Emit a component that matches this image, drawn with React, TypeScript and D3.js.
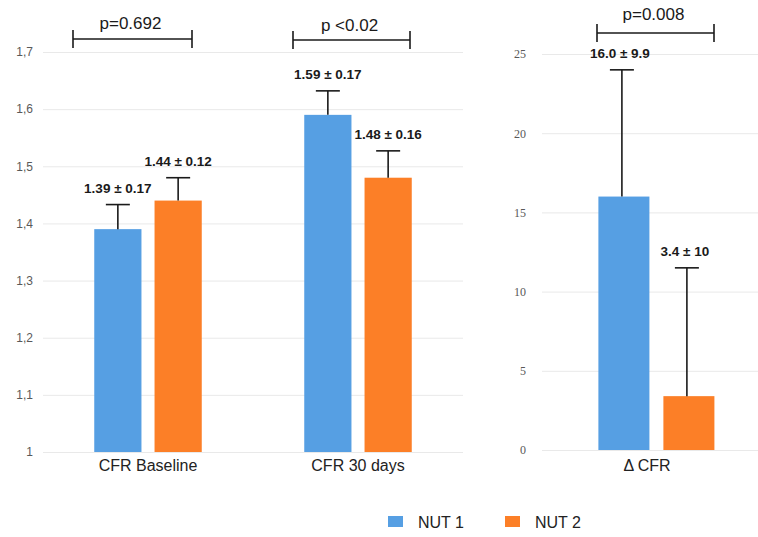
import React, { useRef, useEffect } from 'react';
import * as d3 from 'd3';

// values
const groups = ['CFR Baseline', 'CFR 30 days'];
const series = ['NUT 1', 'NUT 2'];
const colors = ['#569fe3', '#fc7f27'];

const meanNut1 = [1.39, 1.59];
const meanNut2 = [1.44, 1.48];
const errNut1 = [0.043, 0.042]; // whisker as drawn
const errNut2 = [0.04, 0.047];
const labelNut1 = ['1.39 ± 0.17', '1.59 ± 0.17'];
const labelNut2 = ['1.44 ± 0.12', '1.48 ± 0.16'];

const deltaGroup = ['Δ CFR'];
const deltaMean = [16.0, 3.4];
const deltaErr = [8.0, 8.1];
const deltaLabel = ['16.0 ± 9.9', '3.4 ± 10'];

const leftTicks = [1, 1.1, 1.2, 1.3, 1.4, 1.5, 1.6, 1.7];
const rightTicks = [0, 5, 10, 15, 20, 25];
const pValues = ['p=0.692', 'p <0.02', 'p=0.008'];

const W = 758, H = 537;
const sans = 'Liberation Sans, Arial, sans-serif';

export default function App() {
  const ref = useRef<SVGSVGElement>(null);

  useEffect(() => {
    const svg = d3.select(ref.current);
    svg.selectAll('*').remove();

    // ---- left panel
    const xL = d3.scaleBand().domain(groups).range([43, 463]);
    const xInL = d3.scaleBand().domain(series).range([0, xL.bandwidth()])
      .paddingInner(0.217).paddingOuter(0.85).align(0.5);
    const yL = d3.scaleLinear().domain([1, 1.7]).range([452, 52]);

    const axL = svg.append('g').attr('transform', 'translate(43,0)')
      .call(d3.axisLeft(yL).tickValues(leftTicks).tickSize(-420).tickPadding(10)
        .tickFormat((d) => d3.format('.1~f')(+d).replace('.', ',')));
    axL.select('.domain').remove();
    axL.selectAll('line').attr('stroke', '#e9e9e9');
    axL.selectAll('text').attr('fill', '#595959').attr('font-size', 12).attr('font-family', sans);

    const leftRows = groups.flatMap((g, i) => [
      { g, s: series[0], v: meanNut1[i], e: errNut1[i], t: labelNut1[i], c: colors[0] },
      { g, s: series[1], v: meanNut2[i], e: errNut2[i], t: labelNut2[i], c: colors[1] },
    ]);
    const bw = xInL.bandwidth();
    leftRows.forEach((d) => {
      const x0 = (xL(d.g) as number) + (xInL(d.s) as number);
      const cx = x0 + bw / 2;
      svg.append('rect').attr('x', x0).attr('y', yL(d.v)).attr('width', bw)
        .attr('height', yL(1) - yL(d.v)).attr('fill', d.c);
      const top = yL(d.v + d.e);
      svg.append('line').attr('x1', cx).attr('x2', cx).attr('y1', yL(d.v)).attr('y2', top)
        .attr('stroke', '#1a1a1a').attr('stroke-width', 1.6);
      svg.append('line').attr('x1', cx - 12).attr('x2', cx + 12).attr('y1', top).attr('y2', top)
        .attr('stroke', '#1a1a1a').attr('stroke-width', 1.6);
      svg.append('text').attr('x', cx).attr('y', top - 12).attr('text-anchor', 'middle')
        .attr('font-family', sans).attr('font-weight', 'bold').attr('font-size', 13.5)
        .attr('fill', '#1a1a1a').text(d.t);
    });
    groups.forEach((g) => {
      svg.append('text').attr('x', (xL(g) as number) + xL.bandwidth() / 2).attr('y', 471)
        .attr('text-anchor', 'middle').attr('font-family', sans).attr('font-size', 16)
        .attr('fill', '#222').text(g);
    });

    // ---- right panel
    const xR = d3.scaleBand().domain(deltaGroup).range([542, 752]);
    const xInR = d3.scaleBand().domain(series).range([0, xR.bandwidth()])
      .paddingInner(0.215).paddingOuter(0.723).align(0.6);
    const yR = d3.scaleLinear().domain([0, 25]).range([450, 54]);

    const axR = svg.append('g').attr('transform', 'translate(542,0)')
      .call(d3.axisLeft(yR).tickValues(rightTicks).tickSize(-216).tickPadding(16));
    axR.select('.domain').remove();
    axR.selectAll('line').attr('stroke', '#e9e9e9');
    axR.selectAll('text').attr('fill', '#595959').attr('font-size', 12)
      .attr('font-family', 'Liberation Serif, Times New Roman, serif');

    const bwR = xInR.bandwidth();
    series.forEach((s, i) => {
      const x0 = (xR(deltaGroup[0]) as number) + (xInR(s) as number);
      const cx = x0 + bwR / 2;
      svg.append('rect').attr('x', x0).attr('y', yR(deltaMean[i])).attr('width', bwR)
        .attr('height', yR(0) - yR(deltaMean[i])).attr('fill', colors[i]);
      const top = yR(deltaMean[i] + deltaErr[i]);
      svg.append('line').attr('x1', cx - 2).attr('x2', cx - 2).attr('y1', yR(deltaMean[i])).attr('y2', top)
        .attr('stroke', '#1a1a1a').attr('stroke-width', 1.6);
      svg.append('line').attr('x1', cx - 14).attr('x2', cx + 10).attr('y1', top).attr('y2', top)
        .attr('stroke', '#1a1a1a').attr('stroke-width', 1.6);
      svg.append('text').attr('x', cx - 4).attr('y', top - 12).attr('text-anchor', 'middle')
        .attr('font-family', sans).attr('font-weight', 'bold').attr('font-size', 13.5)
        .attr('fill', '#1a1a1a').text(deltaLabel[i]);
    });
    svg.append('text').attr('x', (xR(deltaGroup[0]) as number) + xR.bandwidth() / 2).attr('y', 471)
      .attr('text-anchor', 'middle').attr('font-family', sans).attr('font-size', 16)
      .attr('fill', '#222').text(deltaGroup[0]);

    // ---- significance brackets
    const brackets = [
      { x1: 73, x2: 192, y: 39, ty: 29 },
      { x1: 293, x2: 410, y: 40, ty: 31 },
      { x1: 597, x2: 714, y: 33, ty: 20 },
    ];
    brackets.forEach((b, i) => {
      const g = svg.append('g').attr('stroke', '#1a1a1a').attr('stroke-width', 1.6);
      g.append('line').attr('x1', b.x1).attr('x2', b.x2).attr('y1', b.y).attr('y2', b.y);
      g.append('line').attr('x1', b.x1).attr('x2', b.x1).attr('y1', b.y - 9).attr('y2', b.y + 9);
      g.append('line').attr('x1', b.x2).attr('x2', b.x2).attr('y1', b.y - 9).attr('y2', b.y + 9);
      svg.append('text').attr('x', (b.x1 + b.x2) / 2 - 2).attr('y', b.ty).attr('text-anchor', 'middle')
        .attr('font-family', sans).attr('font-size', 17).attr('fill', '#1a1a1a').text(pValues[i]);
    });

    // ---- legend
    const legX = [388, 505];
    series.forEach((s, i) => {
      svg.append('rect').attr('x', legX[i]).attr('y', 516).attr('width', 15).attr('height', 11)
        .attr('fill', colors[i]);
      svg.append('text').attr('x', legX[i] + 30).attr('y', 528).attr('font-family', sans)
        .attr('font-size', 16).attr('fill', '#222').text(s);
    });
  }, []);

  return (
    <svg ref={ref} width={W} height={H}
      style={{ position: 'absolute', left: 0, top: 0, background: '#fff' }} />
  );
}
